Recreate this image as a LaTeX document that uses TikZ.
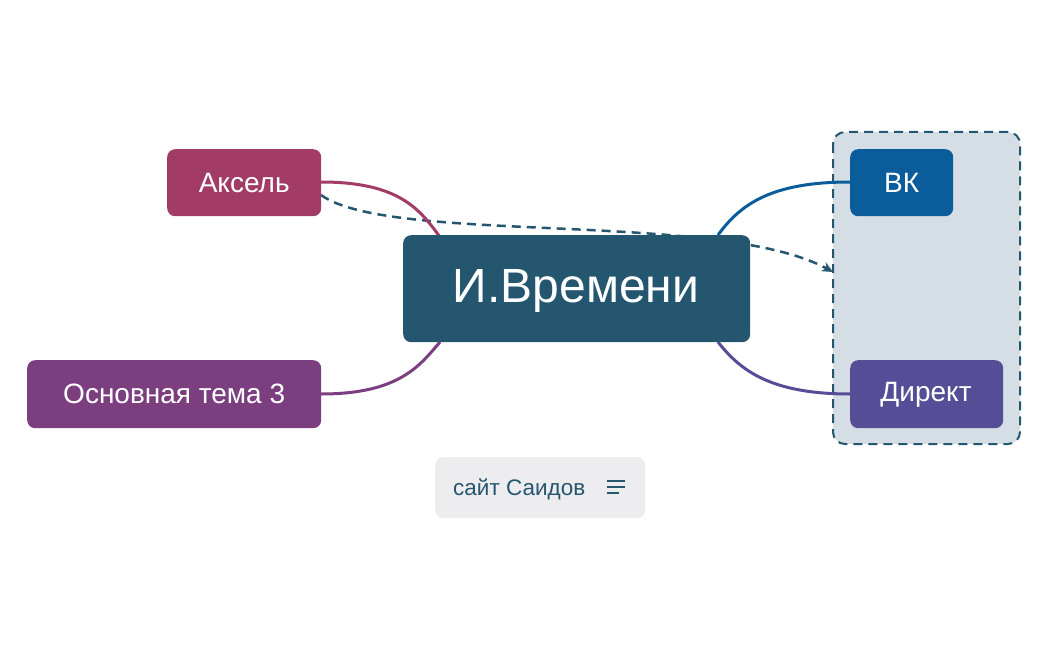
\documentclass[tikz,border=0pt]{standalone}
\usepackage{fontspec}
\setmainfont{Liberation Sans}
\usetikzlibrary{arrows.meta}
\definecolor{cmain}{HTML}{245670}
\definecolor{caks}{HTML}{A23C66}
\definecolor{cosn}{HTML}{7B3F80}
\definecolor{cvk}{HTML}{0A5C9A}
\definecolor{cdir}{HTML}{554E96}
\definecolor{cgrp}{HTML}{D5DEE4}
\definecolor{cnote}{HTML}{EDEDEF}
\begin{document}
\begin{tikzpicture}[x=1pt,y=-1pt,
  topic/.style={rounded corners=8pt,text=white,font=\fontsize{28}{32}\selectfont,inner sep=0pt,anchor=north west},
  link/.style={line width=3pt}]
\useasboundingbox (0,0) rectangle (1049,650);
\draw[cmain,dashed,line width=2pt,dash pattern=on 9pt off 6pt,fill=cgrp,rounded corners=12pt] (833,132) rectangle (1020,444);
\coordinate (arr) at (833,272);
\coordinate (aks-d) at (321,195);
\draw[cmain,line width=2.5pt,dash pattern=on 9pt off 6pt,-{Stealth[length=11pt,width=10pt]}] (aks-d) .. controls (390,245) and (720,210) .. (arr);
\draw[link,caks] (321,182) .. controls (400,182) and (420,210) .. (440,237);
\draw[link,cosn] (321,394) .. controls (400,394) and (420,365) .. (440,342);
\draw[link,cvk] (850,182) .. controls (770,182) and (740,205) .. (718,235);
\draw[link,cdir] (850,394) .. controls (770,394) and (740,370) .. (718,342);
\node[topic,fill=cmain,minimum width=347pt,minimum height=107pt] (c) at (403,235) {};
\node[text=white,font=\fontsize{48}{54}\selectfont] (ct) at (576,291) {И.Времени};
\node[topic,fill=caks,minimum width=154pt,minimum height=67pt] (aks) at (167,149) {\raisebox{0pt}{Аксель}};
\node[topic,fill=cosn,minimum width=294pt,minimum height=68pt] (osn) at (27,360) {Основная тема 3};
\node[topic,fill=cvk,minimum width=103pt,minimum height=67pt] (vk) at (850,149) {ВК};
\node[topic,fill=cdir,minimum width=153pt,minimum height=68pt] (dir) at (850,360) {};
\node[text=white,font=\fontsize{28}{32}\selectfont] (dt) at (926,395) {Директ};
\node[fill=cnote,rounded corners=8pt,minimum width=210pt,minimum height=61pt,anchor=north west] (note) at (435,457) {};
\node[text=cmain,font=\fontsize{22.5}{26}\selectfont,anchor=west,inner sep=0pt] (nt) at (453,489) {сайт Саидов};
\draw[cmain,line width=1.5pt] (607,481) -- (625,481) (607,487) -- (625,487) (607,493) -- (619,493);
\end{tikzpicture}
\end{document}
